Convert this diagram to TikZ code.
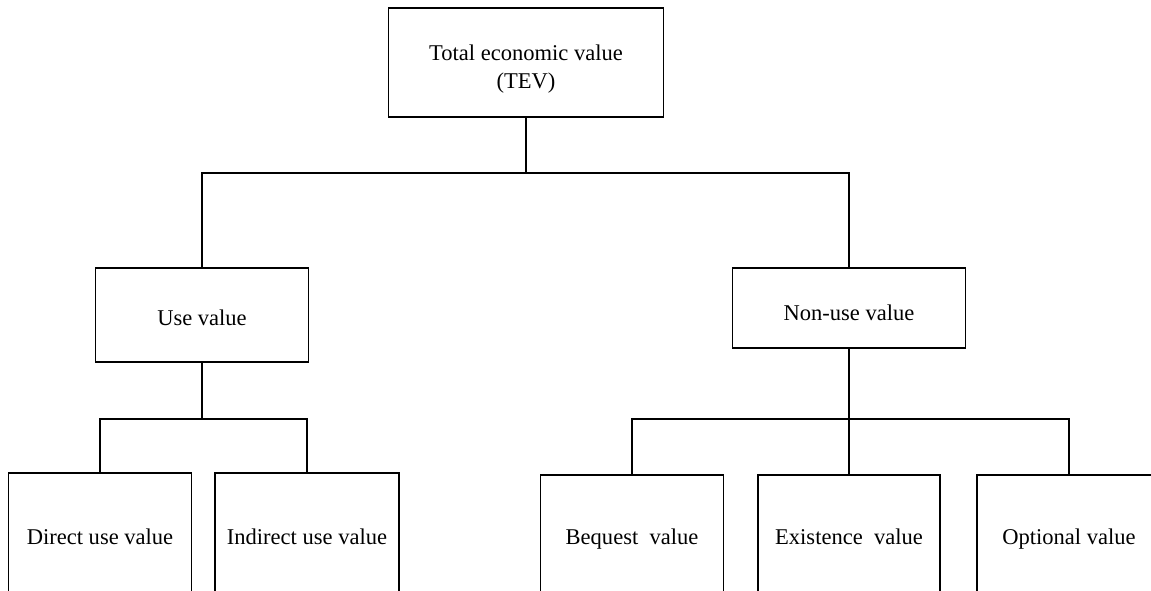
\documentclass[tikz,border=0pt]{standalone}
\usepackage{fontspec}
\setmainfont{Liberation Serif}
\begin{document}
\begin{tikzpicture}[x=0.75pt,y=-0.75pt,
  valfont/.style={font=\fontsize{16.9}{20.5}\selectfont},
  valbox/.style={draw=black,line width=1.2pt,rectangle,inner sep=0pt,
    valfont,text height=11.2pt,text depth=0pt},
  link/.style={draw=black,line width=1.2pt}]
\useasboundingbox (0,0) rectangle (1151,591);
\clip (0,0) rectangle (1151,591);
\fill[white] (0,0) rectangle (1151,591);

% top level: box and its two-line caption
\node[valbox,minimum width=275*0.75pt,minimum height=109*0.75pt] (tev) at (526,62.5) {};
\node[valfont,align=center,inner sep=0pt] (tevtext) at (526,69)
  {Total economic value\\(TEV)};

% second level
\node[valbox,text height=15.7pt,minimum width=213*0.75pt,minimum height=94*0.75pt]
  (use) at (202,315) {Use value};
\node[valbox,text height=18.7pt,minimum width=233*0.75pt,minimum height=80*0.75pt]
  (nonuse) at (849,308) {Non-use value};

% third level (boxes run past the lower edge)
\node[valbox,minimum width=183*0.75pt,minimum height=128*0.75pt] (direct) at (100,537) {Direct use value};
\node[valbox,minimum width=184*0.75pt,minimum height=128*0.75pt] (indirect) at (307,537) {Indirect use value};
\node[valbox,minimum width=183*0.75pt,minimum height=124*0.75pt] (bequest) at (632,537) {Bequest\ \ value};
\node[valbox,minimum width=182*0.75pt,minimum height=124*0.75pt] (existence) at (849,537) {Existence\ \ value};
\node[valbox,minimum width=184*0.75pt,minimum height=124*0.75pt] (optional) at (1069,537) {Optional value};

% bus lines
\coordinate (bus1) at (526,173);
\coordinate (bus2) at (202,419);
\coordinate (bus3) at (849,419);

\draw[link] (tev.south) -- (bus1);
\draw[link] (use.north) |- (bus1) -| (nonuse.north);

\draw[link] (use.south) -- (bus2);
\draw[link] (direct.north) |- (bus2) -| (indirect.north);

\draw[link] (nonuse.south) -- (bus3);
\draw[link] (bequest.north) |- (bus3) -| (optional.north);
\draw[link] (bus3) -- (existence.north);
\end{tikzpicture}
\end{document}
